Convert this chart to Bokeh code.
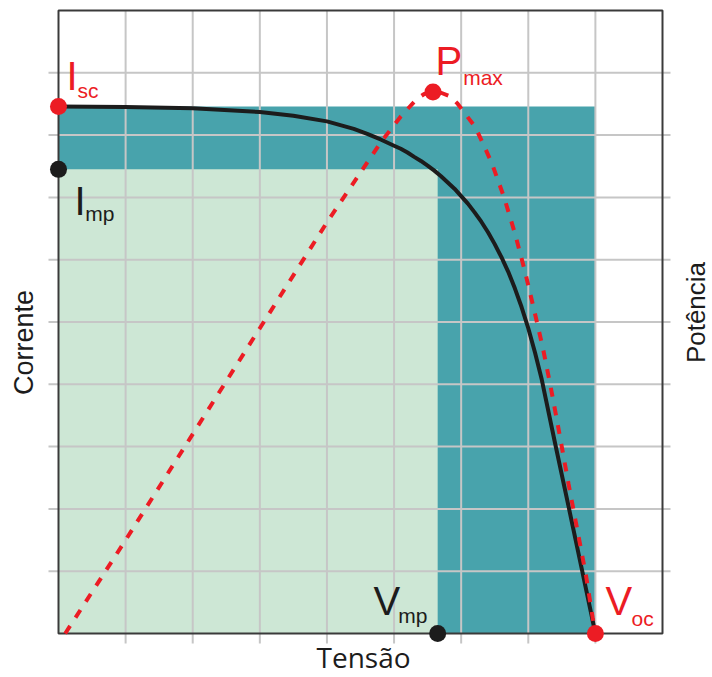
import numpy as np
from bokeh.plotting import figure
from bokeh.models import Range1d
from bokeh.core.properties import value
from bokeh.embed import file_html
from bokeh.resources import INLINE

# I-V curve of the solar cell (voltage, current) in grid units
voltage = [0.0, 1.0, 2.0, 3.0, 3.5, 4.0, 4.2, 4.4, 4.6, 4.8, 5.0, 5.1, 5.2,
           5.3, 5.4, 5.5, 5.6, 5.7, 5.8, 5.9, 6.0, 6.1, 6.2, 6.3, 6.4, 6.5,
           6.6, 6.7, 6.8, 6.9, 7.0, 7.1, 7.2, 7.4, 7.6, 7.8, 8.0]
current = [8.46, 8.45, 8.43, 8.37, 8.31, 8.22, 8.16, 8.10, 8.02, 7.93, 7.83,
           7.78, 7.72, 7.65, 7.585, 7.51, 7.43, 7.34, 7.24, 7.14, 7.02, 6.90,
           6.76, 6.61, 6.44, 6.25, 6.04, 5.81, 5.54, 5.24, 4.9, 4.51, 4.08,
           3.05, 2.04, 1.02, 0.0]

# P-V curve (voltage, power) on the power scale of the right-hand side
power_voltage = [0.1, 1.0, 2.0, 3.0, 4.0, 4.5, 4.8, 5.1, 5.34, 5.45, 5.58,
                 5.7, 5.84, 5.95, 6.04, 6.21, 6.34, 6.46, 6.64, 6.81, 6.96,
                 7.09, 7.22, 7.33, 7.44, 7.6, 7.76, 7.86, 7.96, 8.0]
power = [0.0, 1.5, 3.2, 4.9, 6.6, 7.4, 7.88, 8.3, 8.58, 8.66, 8.69,
         8.68, 8.62, 8.5, 8.37, 8.13, 7.83, 7.54, 7.0, 6.39, 5.77,
         5.18, 4.57, 3.98, 3.35, 2.4, 1.5, 0.93, 0.25, 0.0]

# characteristic points
isc = 8.46
voc = 8.0
vmp = 5.65
imp = 7.45
pmax_v = 5.58
pmax = 8.69

# grid
x_ticks = [1, 2, 3, 4, 5, 6, 7, 8]
y_ticks = [1, 2, 3, 4, 5, 6, 7, 8, 9]
x_max = 9
y_max = 10

# page / frame geometry in pixels
W, H = 712, 677
F_LEFT, F_RIGHT, F_TOP, F_BOTTOM = 58, 662, 10, 633
sx = (F_RIGHT - F_LEFT) / x_max
sy = (F_BOTTOM - F_TOP) / y_max

RED = "#ec1c24"
BLACK = "#1c1c1c"
TEAL = "#48a3ac"
LIGHT = "#cde7d5"
GRID = "#c6c6c6"
FRAME = "#3a3a3a"
SANS = "Liberation Sans"

p = figure(width=W, height=H, output_backend="svg", toolbar_location=None,
           x_axis_location=None, y_axis_location=None, title=None,
           min_border=0,
           x_range=Range1d(-F_LEFT / sx, (W - F_LEFT) / sx),
           y_range=Range1d(-(H - F_BOTTOM) / sy, F_BOTTOM / sy))
p.outline_line_color = None
p.grid.visible = False
p.background_fill_color = "white"
p.border_fill_color = "white"

# shaded areas: Isc x Voc and Imp x Vmp
p.quad(left=[0], right=[voc], bottom=[0], top=[isc],
       fill_color=TEAL, line_color=None)
p.quad(left=[0], right=[vmp], bottom=[0], top=[imp],
       fill_color=LIGHT, line_color=None)

# grid lines, running out past the frame as tick marks
tick_left, tick_right, tick_bottom = 10 / sx, 8 / sx, 10 / sy
p.segment(x0=x_ticks, y0=[-tick_bottom] * len(x_ticks),
          x1=x_ticks, y1=[y_max] * len(x_ticks),
          line_color=GRID, line_width=2)
p.segment(x0=[-tick_left] * len(y_ticks), y0=y_ticks,
          x1=[x_max + tick_right] * len(y_ticks), y1=y_ticks,
          line_color=GRID, line_width=2)

# frame
p.quad(left=[0], right=[x_max], bottom=[0], top=[y_max],
       fill_alpha=0, line_color=FRAME, line_width=2)

# curves
p.line(voltage, current, line_color=BLACK, line_width=4,
       line_join="round")
p.line(power_voltage, power, line_color=RED, line_width=4,
       line_dash="9 10")

# marked points
p.scatter([0, 0, vmp], [isc, imp, 0], size=17,
          fill_color=[RED, BLACK, BLACK], line_color=None)
p.scatter([pmax_v, voc], [pmax, 0], size=17,
          fill_color=RED, line_color=None)

# baseline correction for the svg text layout (fraction of the font size)
LIFT = 0.35


def txt(x, y, s, size, color, font=SANS, vertical=False, align="left"):
    shift = -LIFT * size
    p.text(x=[x], y=[y], text=[s], text_font=value(font),
           text_font_size=value(f"{size}px"), text_color=color,
           angle=np.pi / 2 if vertical else 0.0,
           x_offset=shift if vertical else 0,
           y_offset=0 if vertical else shift,
           text_align=align, text_baseline="alphabetic")


BIG, SUB = 40, 21
txt(0.12, 8.73, "I", BIG, RED)
txt(0.283, 8.59, "sc", SUB, RED)
txt(0.238, 6.71, "I", BIG, BLACK)
txt(0.398, 6.63, "mp", SUB, BLACK)
txt(5.618, 8.957, "P", BIG, RED)
txt(6.03, 8.81, "max", SUB, RED)
txt(4.694, 0.289, "V", BIG, BLACK)
txt(5.062, 0.169, "mp", SUB, BLACK)
txt(8.151, 0.289, "V", BIG, RED)
txt(8.538, 0.128, "oc", SUB, RED)

# axis titles
txt(4.545, -0.53, "Tensão", 28, BLACK, font="Open Sans", align="center")
txt(-0.3725, 4.671, "Corrente", 27, BLACK, vertical=True, align="center")
txt(9.64, 5.152, "Potência", 26, BLACK, vertical=True, align="center")

open("out.html", "w").write(file_html(p, INLINE))
